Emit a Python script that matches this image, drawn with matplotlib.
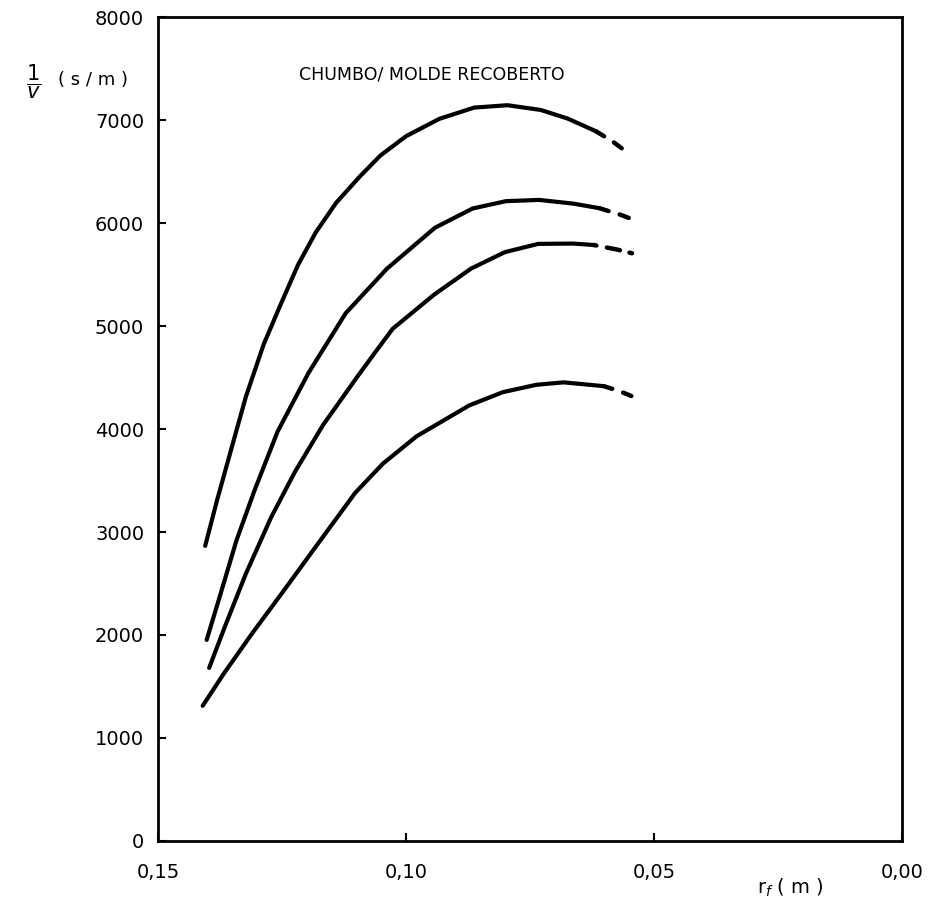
import matplotlib.pyplot as plt

plt.rcParams['font.family'] = ['DejaVu Sans']

# curva superior (trecho cheio e trecho tracejado)
c1_x = [0.1405, 0.1381, 0.1351, 0.1323, 0.1287, 0.1253, 0.1218, 0.1182, 0.1141,
        0.1093, 0.1052, 0.1000, 0.0933, 0.0863, 0.0796, 0.0729, 0.0675, 0.0618]
c1_y = [2865, 3310, 3831, 4314, 4825, 5210, 5595, 5912, 6199,
        6456, 6657, 6846, 7014, 7123, 7146, 7100, 7017, 6894]
c1_dx = [0.0618, 0.0583, 0.0548]
c1_dy = [6894, 6790, 6664]

c2_x = [0.1402, 0.1376, 0.1342, 0.1306, 0.1259, 0.1197, 0.1122, 0.1039, 0.0942,
        0.0866, 0.0799, 0.0732, 0.0663, 0.0611]
c2_y = [1952, 2367, 2918, 3399, 3977, 4544, 5125, 5557, 5956,
        6143, 6214, 6226, 6190, 6146]
c2_dx = [0.0611, 0.0570, 0.0530]
c2_dy = [6146, 6085, 6012]

c3_x = [0.1397, 0.1365, 0.1323, 0.1272, 0.1224, 0.1168, 0.1099, 0.1058, 0.1027,
        0.0944, 0.0869, 0.0801, 0.0734, 0.0664, 0.0622]
c3_y = [1680, 2085, 2595, 3144, 3586, 4036, 4505, 4775, 4975,
        5305, 5560, 5719, 5799, 5802, 5788]
c3_dx = [0.0622, 0.0576, 0.0531]
c3_dy = [5788, 5745, 5691]

c4_x = [0.1410, 0.1367, 0.1311, 0.1248, 0.1180, 0.1103, 0.1047, 0.0979, 0.0873,
        0.0805, 0.0738, 0.0683, 0.0602]
c4_y = [1312, 1628, 2011, 2422, 2872, 3379, 3664, 3930, 4230,
        4359, 4430, 4454, 4417]
c4_dx = [0.0602, 0.0571, 0.0541]
c4_dy = [4417, 4370, 4311]

x_ticks = [0.15, 0.10, 0.05, 0.00]
x_labels = ['0,15', '0,10', '0,05', '0,00']
y_ticks = [0, 1000, 2000, 3000, 4000, 5000, 6000, 7000, 8000]

fig = plt.figure(figsize=(9.52, 9.11), dpi=100)
ax = fig.add_axes([0.166, 0.077, 0.782, 0.904])

solidos = [(c1_x, c1_y), (c2_x, c2_y), (c3_x, c3_y), (c4_x, c4_y)]
tracejados = [(c1_dx, c1_dy, (0, (2.2, 2.6))),
              (c2_dx, c2_dy, (0, (2.2, 2.6))),
              (c3_dx, c3_dy, (0, (0.6, 2.4, 3.0, 2.2))),
              (c4_dx, c4_dy, (0, (2.0, 2.6)))]

for xs, ys in solidos:
    ax.plot(xs, ys, color='black', lw=3, solid_capstyle='round', solid_joinstyle='round')
for xs, ys, ls in tracejados:
    ax.plot(xs, ys, color='black', lw=3.2, linestyle=ls, dash_capstyle='round')

ax.set_xlim(0.15, 0.00)
ax.set_ylim(0, 8000)
ax.set_xticks(x_ticks)
ax.set_xticklabels(x_labels)
ax.set_yticks(y_ticks)
ax.tick_params(direction='in', length=6, width=1.5, labelsize=14, top=False, right=False)
ax.tick_params(axis='x', pad=16)
ax.tick_params(axis='y', pad=10)
for s in ax.spines.values():
    s.set_linewidth(2)

ax.text(0.368, 0.93, 'CHUMBO/ MOLDE RECOBERTO', transform=ax.transAxes,
        ha='center', va='center', fontsize=12.5)

fig.text(0.035, 1 - 82 / 911, r'$\dfrac{1}{v}$', fontsize=15, ha='center', va='center')
fig.text(0.061, 1 - 80 / 911, '( s / m )', fontsize=13, ha='left', va='center')
fig.text(0.83, 1 - 888 / 911, r'r$_f$ ( m )', fontsize=14, ha='center', va='center')

fig.savefig('out.png', dpi=100)
